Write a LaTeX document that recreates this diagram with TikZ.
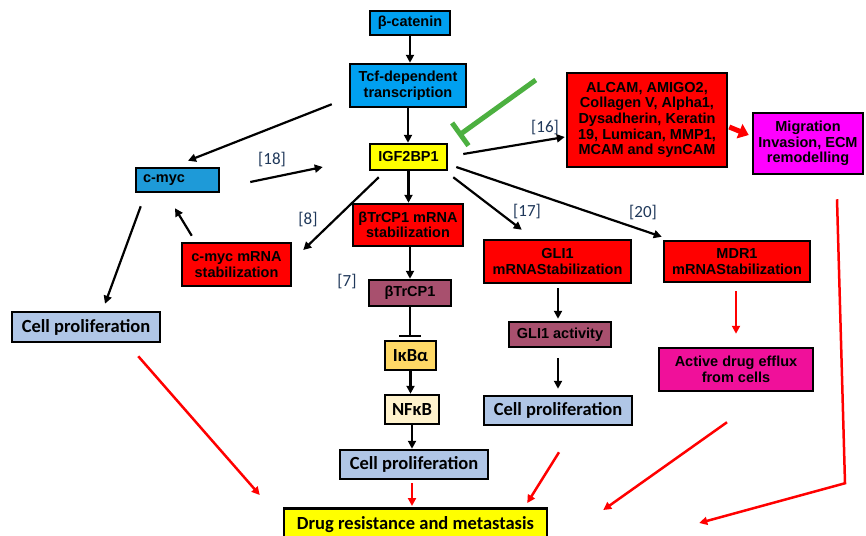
\documentclass[tikz,border=0pt]{standalone}
\usepackage{fontspec}
\setmainfont{Liberation Sans}
\newfontfamily\calfont{Carlito}
\usetikzlibrary{arrows.meta,calc}
\definecolor{catblue}{RGB}{0,160,240}
\definecolor{mycblue}{RGB}{30,154,216}
\definecolor{mauve}{RGB}{168,80,110}
\definecolor{gold}{RGB}{255,217,102}
\definecolor{cream}{RGB}{255,242,204}
\definecolor{lblue}{RGB}{176,198,230}
\definecolor{hotpink}{RGB}{240,16,154}
\definecolor{grn}{RGB}{76,176,64}
\definecolor{lblcol}{RGB}{31,56,90}
\definecolor{yel}{RGB}{255,255,0}
\definecolor{mag}{RGB}{255,0,255}
\definecolor{rd}{RGB}{255,0,0}
\begin{document}
\begin{tikzpicture}[x=1pt,y=-1pt,
 box/.style={draw=black, line width=2.5pt, inner sep=2pt, align=center, font=\fontsize{14.5}{15.6}\selectfont\bfseries},
 cbox/.style={box, font=\fontsize{18.5}{20}\selectfont\calfont\bfseries},
 arr/.style={line width=2.2pt, -{Triangle[length=8pt,width=8pt]}},
 rarr/.style={draw=rd, line width=2.5pt, -{Triangle[length=8pt,width=8pt]}},
 lbl/.style={font=\fontsize{17}{17}\selectfont\calfont, text=lblcol, inner sep=0pt},
]
\useasboundingbox (0,0) rectangle (866,535);
\fill[white] (0,0) rectangle (866,535);

% nodes
\node[box, fill=catblue, minimum width=80pt, minimum height=24pt] (bcat) at (410,23) {β-catenin};
\node[box, fill=catblue, minimum width=116pt, minimum height=43pt] (tcf) at (408,85.5) {Tcf-dependent\\transcription};
\node[box, fill=yel, minimum width=77pt, minimum height=26pt] (igf) at (408.5,157) {IGF2BP1};
\node[box, fill=rd, minimum width=160pt, minimum height=94pt] (alcam) at (647,120) {ALCAM, AMIGO2,\\Collagen V, Alpha1,\\Dysadherin, Keratin\\19, Lumican, MMP1,\\MCAM and synCAM};
\node[box, fill=mag, minimum width=110pt, minimum height=61pt] (migr) at (808,143.5) {Migration\\Invasion, ECM\\remodelling};
\node[box, fill=mycblue, text width=69pt, inner xsep=7pt, align=left, minimum height=24pt] (cmyc) at (177.5,180) {c-myc};
\node[box, fill=rd, minimum width=109pt, minimum height=43pt] (cmycm) at (236.5,264.5) {c-myc mRNA\\stabilization};
\node[cbox, fill=lblue, minimum width=148pt, minimum height=30pt] (cpL) at (86,327) {Cell proliferation};
\node[box, fill=rd, minimum width=110pt, minimum height=42pt] (btm) at (408,225) {βTrCP1 mRNA\\stabilization};
\node[box, fill=mauve, minimum width=82pt, minimum height=26pt] (btr) at (410,293) {βTrCP1};
\node[cbox, fill=gold, minimum width=51pt, minimum height=29pt] (ikb) at (410.5,355.5) {IκBα};
\node[cbox, fill=cream, minimum width=54pt, minimum height=29pt] (nfkb) at (412,409.5) {NFκB};
\node[cbox, fill=lblue, minimum width=148pt, minimum height=29pt] (cpC) at (414,464.5) {Cell proliferation};
\node[box, fill=rd, minimum width=147pt, minimum height=43pt] (gli) at (557.5,261.5) {GLI1\\mRNAStabilization};
\node[box, fill=mauve, minimum width=102pt, minimum height=25pt] (glia) at (560,334.5) {GLI1 activity};
\node[cbox, fill=lblue, minimum width=148pt, minimum height=29pt] (cpG) at (558,410.5) {Cell proliferation};
\node[box, fill=rd, minimum width=146pt, minimum height=41pt] (mdr) at (737,261.5) {MDR1\\mRNAStabilization};
\node[box, fill=hotpink, minimum width=154pt, minimum height=43pt] (eff) at (736,369.5) {Active drug efflux\\from cells};
\node[cbox, fill=yel, anchor=north, minimum width=263pt, text height=19pt, text depth=20pt, inner ysep=2pt] (drug) at (415.5,507) {Drug resistance and metastasis};

% labels
\node[lbl] (l18) at (272,160) {[18]};
\node[lbl] (l16) at (545,128) {[16]};
\node[lbl] (l8) at (308,220) {[8]};
\node[lbl] (l7) at (347,282) {[7]};
\node[lbl] (l17) at (527,212) {[17]};
\node[lbl] (l20) at (643,213) {[20]};

% black connectors
\draw[arr] (bcat.south) -- (bcat.south |- tcf.north);
\draw[arr] (tcf.south) -- (tcf.south |- igf.north);
\draw[arr] ($(tcf.south west)+(-17,-4)$) -- ($(cmyc.north)+(10.5,-6)$);
\draw[arr] ($(cmyc.east)+(30,2)$) -- ($(igf.west)+(-46,10)$);
\draw[arr] ($(igf.east)+(15,-3)$) -- ($(alcam.west)+(-1,17)$);
\draw[arr] ($(igf.south west)+(10,6)$) -- ($(cmycm.east)+(11,-14.5)$);
\draw[arr] ($(cmycm.north west)+(11,-6)$) -- ($(cmyc.south)+(-2.5,15)$);
\draw[arr] ($(cmyc.south west)+(6,13)$) -- ($(cpL.north)+(19,-7)$);
\draw[arr] (igf.south) -- (igf.south |- btm.north);
\draw[arr] (btr.north |- btm.south) -- (btr.north);
\draw[line width=2.2pt, -{Bar[width=22pt,line width=2.2pt]}, shorten >=3pt] (btr.south) -- (btr.south |- ikb.north);
\draw[arr] (ikb.south) -- (ikb.south |- nfkb.north);
\draw[arr] (nfkb.south) -- (nfkb.south |- cpC.north);
\draw[arr] ($(igf.south east)+(5,6)$) -- ($(gli.north west)+(39,-9)$);
\draw[arr] ($(glia.north |- gli.south)+(-2,4)$) -- ($(glia.north)+(-2,-2)$);
\draw[arr] ($(cpG.north |- glia.south)+(0,10)$) -- ($(cpG.north)+(0,-6)$);
\draw[arr] ($(igf.east)+(8,10)$) -- ($(mdr.north west)+(-1,-3)$);

% green inhibition
\draw[grn, line width=5pt, -{Bar[width=28pt,line width=5pt]}] ($(alcam.west)+(-30,-40)$) -- ($(igf.north east)+(10,-7)$);

% red connectors
\draw[rarr] ($(mdr.south)+(-1,8)$) -- ($(eff.north)+(0,-13)$);
\draw[draw=rd, line width=5pt, -{Triangle[length=10pt,width=15pt]}] ($(alcam.east)+(1,7)$) -- ($(migr.west)+(-3,-8.5)$);
\draw[rarr] ($(cpL.south east)+(-23,13)$) -- ($(drug.north west)+(-23,-12)$);
\draw[rarr] ($(cpC.south)+(-2,3)$) -- ($(cpC.south |- drug.north)+(-2,-1)$);
\draw[rarr] ($(cpG.south)+(1,26)$) -- ($(drug.north east)+(-21,-4)$);
\draw[rarr] ($(eff.south)+(-9,30)$) -- ($(drug.north east)+(55,3)$);
\coordinate (bend) at ($(migr.south)+(37,308)$);
\draw[rarr] ($(migr.south)+(29,24)$) -- (bend) -- ($(drug.north east)+(151,16)$);
\end{tikzpicture}
\end{document}
